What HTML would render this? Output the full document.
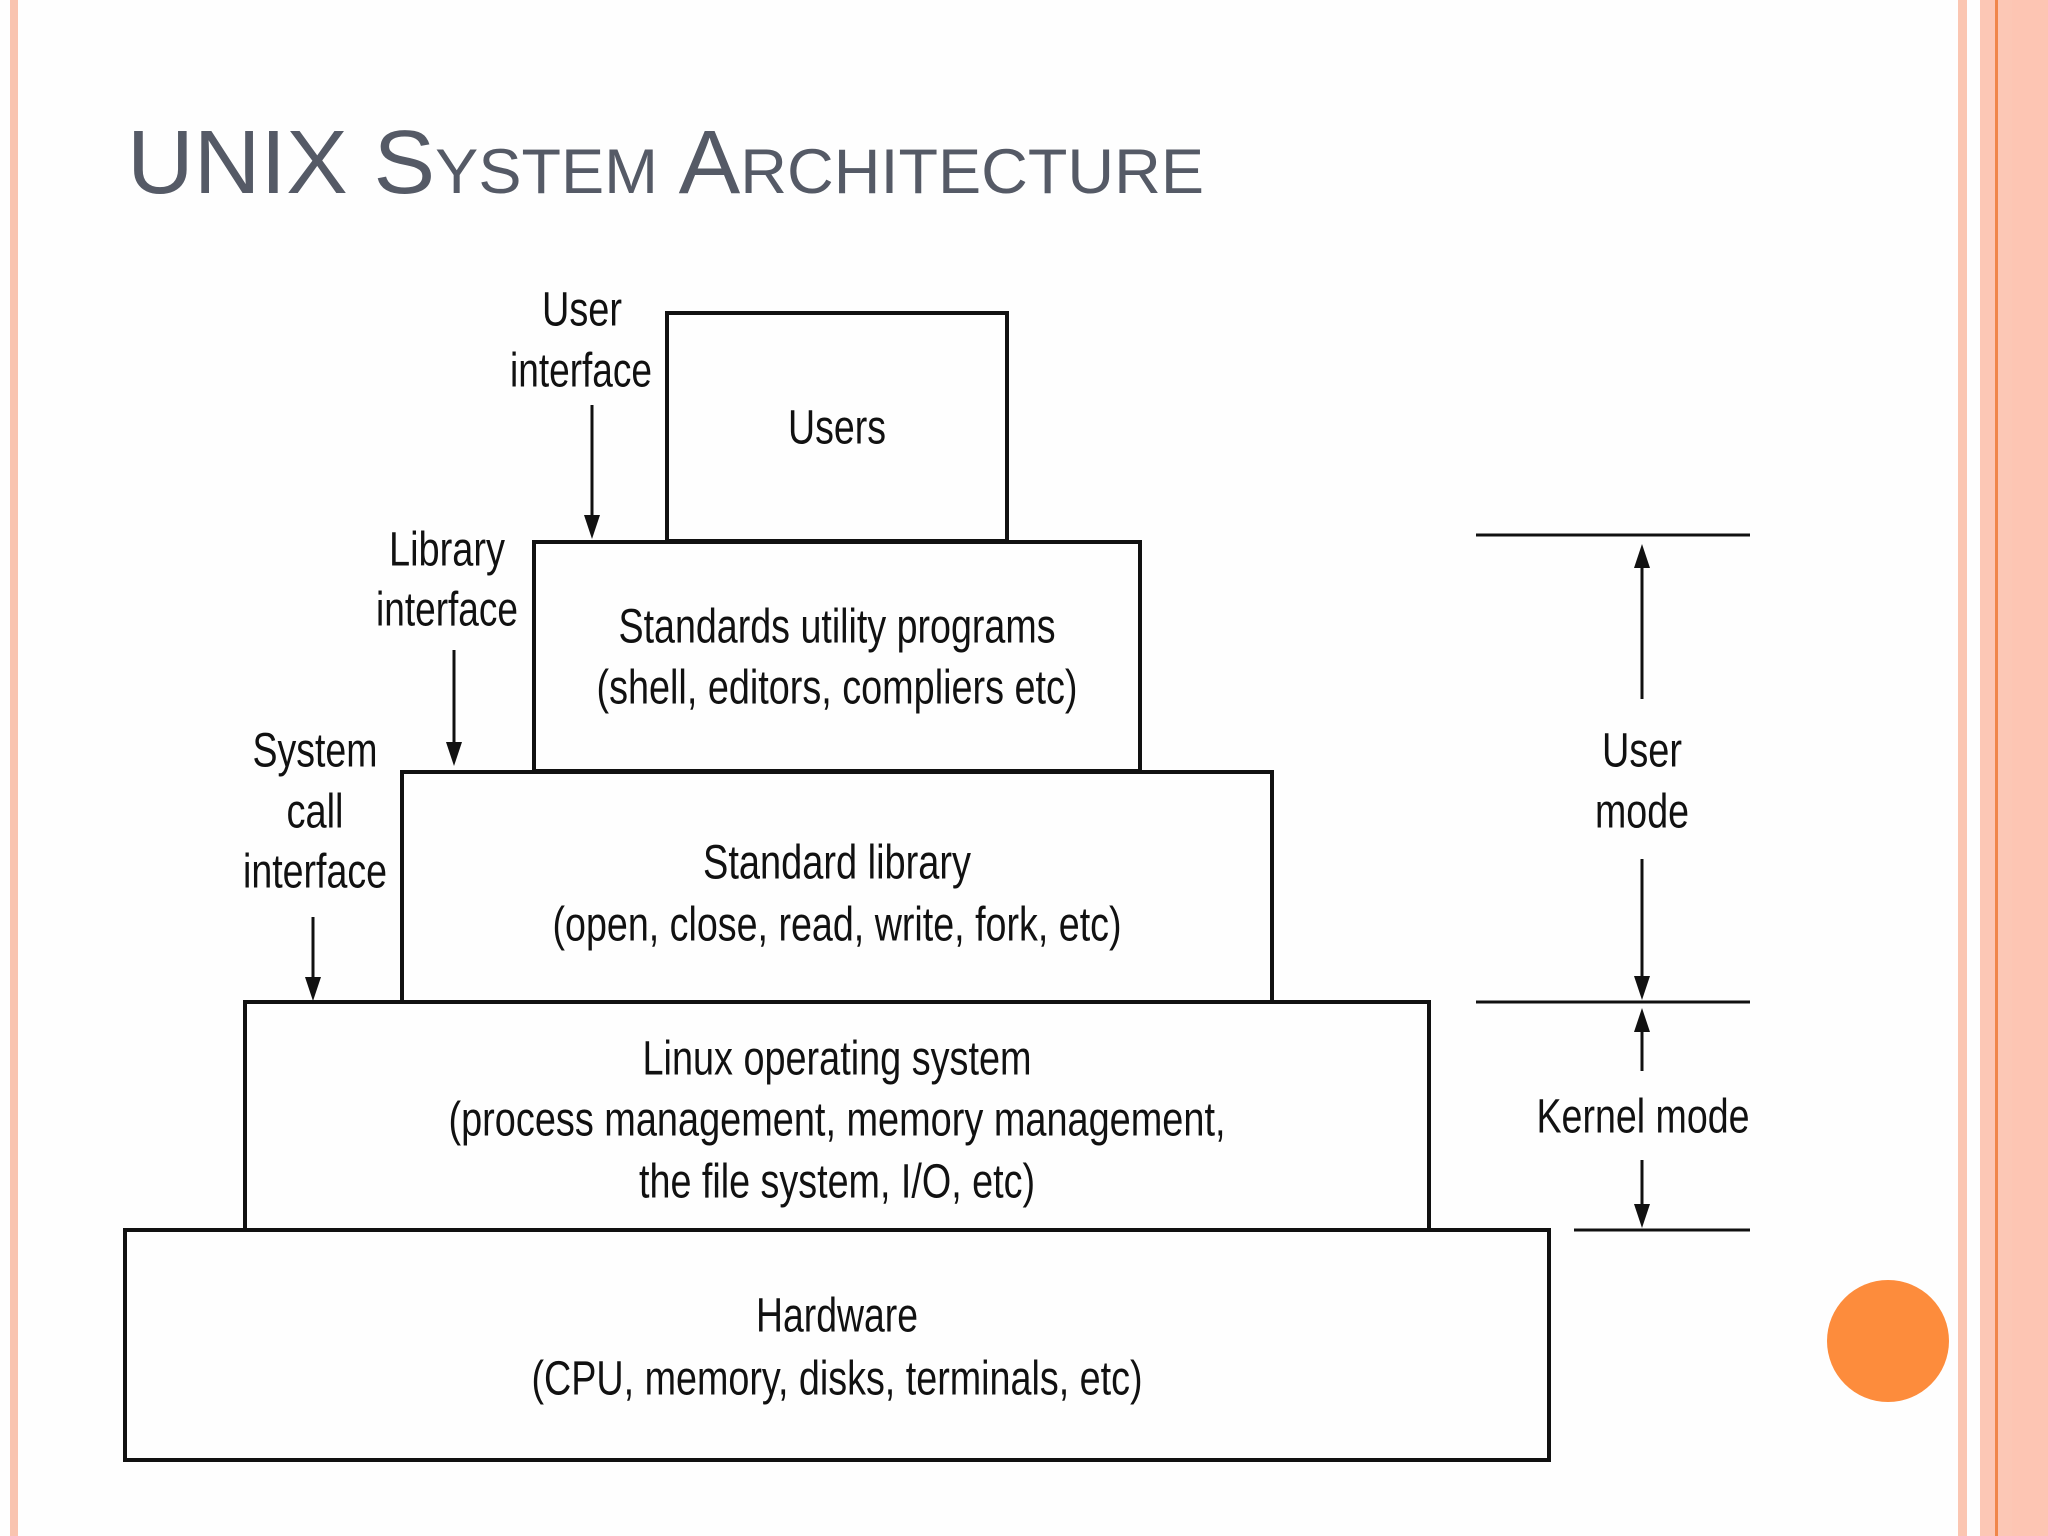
<!DOCTYPE html>
<html><head><meta charset="utf-8"><style>
html,body{margin:0;padding:0;background:#fff}
svg{display:block}
</style></head><body>
<svg width="2048" height="1536" viewBox="0 0 2048 1536" xmlns="http://www.w3.org/2000/svg">
<rect width="2048" height="1536" fill="#fefefe"/>
<rect x="10" y="0" width="8" height="1536" fill="#f9c4b0"/>
<rect x="1958" y="0" width="9" height="1536" fill="#fbc6b2"/>
<rect x="1980" y="0" width="68" height="1536" fill="#fcc7b5"/>
<rect x="1995" y="0" width="3" height="1536" fill="#f0864a"/>
<rect x="2012" y="0" width="36" height="1536" fill="#fdc5b3"/>
<text x="127" y="193" font-family="Liberation Sans, sans-serif" font-size="90" fill="#555a66" style="font-variant:small-caps" textLength="1077" lengthAdjust="spacingAndGlyphs">UNIX System Architecture</text>
<g fill="none" stroke="#111" stroke-width="4">
<rect x="667" y="313" width="340" height="228"/>
<rect x="534" y="542" width="606" height="229"/>
<rect x="402" y="772" width="870" height="230"/>
<rect x="245" y="1002" width="1184" height="228"/>
<rect x="125" y="1230" width="1424" height="230"/>
<line x1="1476" y1="535" x2="1750" y2="535" stroke-width="3"/>
<line x1="1476" y1="1002" x2="1750" y2="1002" stroke-width="3"/>
<line x1="1574" y1="1230" x2="1750" y2="1230" stroke-width="3"/>
<line x1="1642" y1="560" x2="1642" y2="699" stroke-width="3"/>
<line x1="1642" y1="859" x2="1642" y2="988" stroke-width="3"/>
<line x1="1642" y1="1024" x2="1642" y2="1071" stroke-width="3"/>
<line x1="1642" y1="1160" x2="1642" y2="1216" stroke-width="3"/>
<line x1="592" y1="405" x2="592" y2="525" stroke-width="3"/>
<line x1="454" y1="650" x2="454" y2="752" stroke-width="3"/>
<line x1="313" y1="917" x2="313" y2="987" stroke-width="3"/>
</g>
<g fill="#111">
<polygon points="1642,544 1634,568 1650,568"/>
<polygon points="1642,1000 1634,976 1650,976"/>
<polygon points="1642,1008 1634,1032 1650,1032"/>
<polygon points="1642,1228 1634,1204 1650,1204"/>
<polygon points="592,539 584,515 600,515"/>
<polygon points="454,766 446,742 462,742"/>
<polygon points="313,1001 305,977 321,977"/>
</g>
<circle cx="1888" cy="1341" r="61" fill="#fd8c3c"/>
<g font-family="Liberation Sans, sans-serif" font-size="48" fill="#111" text-anchor="middle" dominant-baseline="central">
<text x="582" y="310" textLength="80" lengthAdjust="spacingAndGlyphs">User</text>
<text x="581" y="371" textLength="142" lengthAdjust="spacingAndGlyphs">interface</text>
<text x="447" y="550" textLength="116" lengthAdjust="spacingAndGlyphs">Library</text>
<text x="447" y="610" textLength="142" lengthAdjust="spacingAndGlyphs">interface</text>
<text x="315" y="751" textLength="125" lengthAdjust="spacingAndGlyphs">System</text>
<text x="315" y="812" textLength="57" lengthAdjust="spacingAndGlyphs">call</text>
<text x="315" y="872" textLength="144" lengthAdjust="spacingAndGlyphs">interface</text>
<text x="837" y="428" textLength="98" lengthAdjust="spacingAndGlyphs">Users</text>
<text x="837" y="627" textLength="437" lengthAdjust="spacingAndGlyphs">Standards utility programs</text>
<text x="837" y="688" textLength="481" lengthAdjust="spacingAndGlyphs">(shell, editors, compliers etc)</text>
<text x="837" y="863" textLength="268" lengthAdjust="spacingAndGlyphs">Standard library</text>
<text x="837" y="925" textLength="569" lengthAdjust="spacingAndGlyphs">(open, close, read, write, fork, etc)</text>
<text x="837" y="1059" textLength="389" lengthAdjust="spacingAndGlyphs">Linux operating system</text>
<text x="837" y="1120" textLength="777" lengthAdjust="spacingAndGlyphs">(process management, memory management,</text>
<text x="837" y="1182" textLength="396" lengthAdjust="spacingAndGlyphs">the file system, I/O, etc)</text>
<text x="837" y="1316" textLength="162" lengthAdjust="spacingAndGlyphs">Hardware</text>
<text x="837" y="1379" textLength="611" lengthAdjust="spacingAndGlyphs">(CPU, memory, disks, terminals, etc)</text>
<text x="1642" y="751" textLength="80" lengthAdjust="spacingAndGlyphs">User</text>
<text x="1642" y="812" textLength="94" lengthAdjust="spacingAndGlyphs">mode</text>
<text x="1643" y="1117" textLength="213" lengthAdjust="spacingAndGlyphs">Kernel mode</text>
</g>
</svg>
</body></html>
